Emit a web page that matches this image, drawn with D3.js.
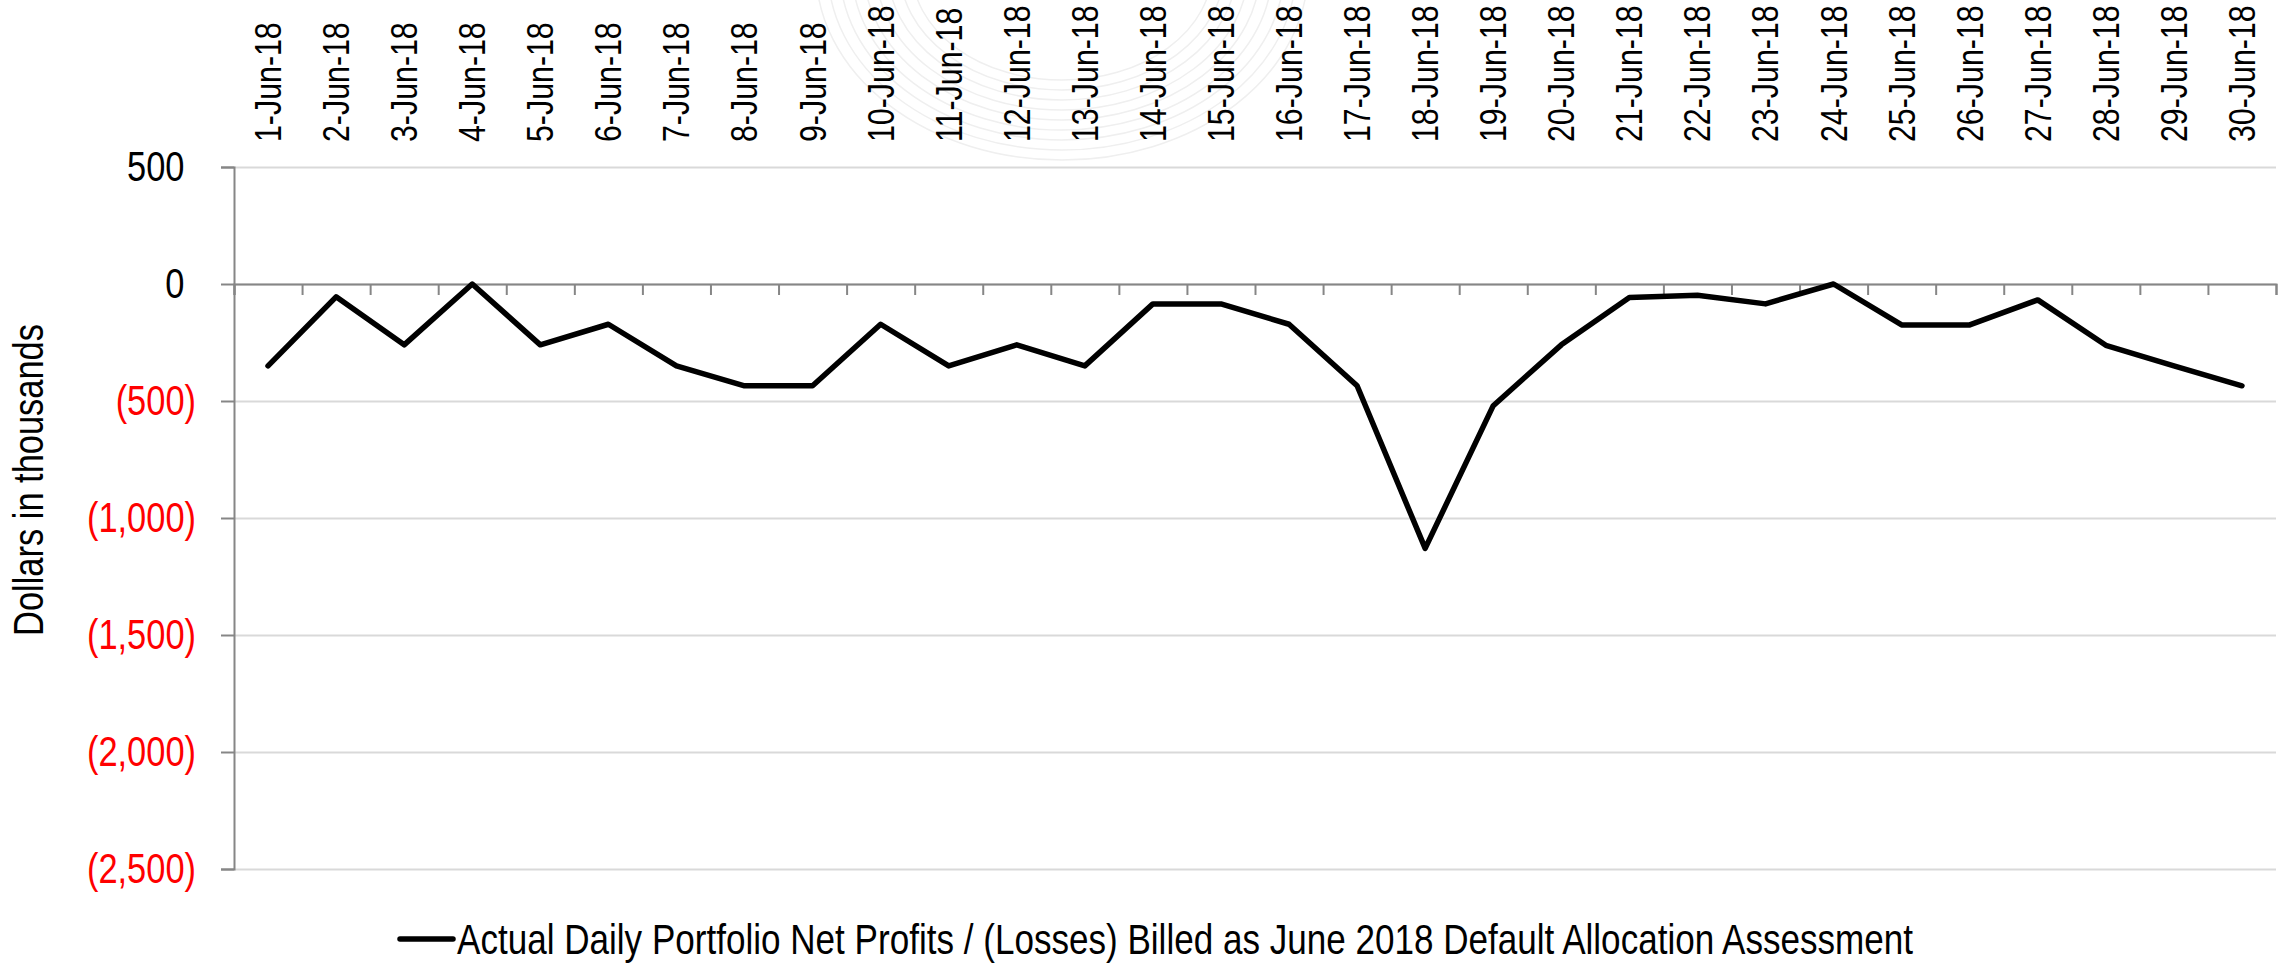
<!DOCTYPE html>
<html>
<head>
<meta charset="utf-8">
<script src="https://cdn.jsdelivr.net/npm/d3@7"></script>
<style>
  body { margin: 0; background: #fff; }
  text { font-family: 'Liberation Sans', Arial, sans-serif; }
</style>
</head>
<body>
<div id="chart"></div>
<script>
const width = 2290,
    height = 966,
    plotLeft = 234, plotRight = 2276, plotTop = 167, plotBottom = 869,
    narrow = 0.82; // no narrow face installed, so squeeze the regular one

// data (thousands of dollars)
const days = ['1-Jun-18', '2-Jun-18', '3-Jun-18', '4-Jun-18', '5-Jun-18', '6-Jun-18', '7-Jun-18', '8-Jun-18',
    '9-Jun-18', '10-Jun-18', '11-Jun-18', '12-Jun-18', '13-Jun-18', '14-Jun-18', '15-Jun-18', '16-Jun-18',
    '17-Jun-18', '18-Jun-18', '19-Jun-18', '20-Jun-18', '21-Jun-18', '22-Jun-18', '23-Jun-18', '24-Jun-18',
    '25-Jun-18', '26-Jun-18', '27-Jun-18', '28-Jun-18', '29-Jun-18', '30-Jun-18'];
const netProfits = [-350, -55, -260, 0, -260, -172, -350, -435, -435, -172, -350, -260, -350, -85, -85, -172,
    -435, -1130, -520, -260, -58, -48, -85, 0, -175, -175, -68, -262, -350, -435];
const yTicks = [500, 0, -500, -1000, -1500, -2000, -2500];
const seriesName = 'Actual Daily Portfolio Net Profits / (Losses) Billed as June 2018 Default Allocation Assessment';

const svg = d3.select('#chart')
    .append('svg')
    .attr('width', width)
    .attr('height', height);

// faint watermark arcs behind the top labels
const wm = svg.append('g').attr('fill', 'none').attr('stroke', '#efefef').attr('stroke-width', 1.5);
d3.range(9).forEach(i => {
    wm.append('ellipse')
        .attr('cx', 1062)
        .attr('cy', -30)
        .attr('rx', 150 + i * 12)
        .attr('ry', 110 + i * 10);
});

const xScale = d3.scaleBand()
    .domain(days)
    .range([plotLeft, plotRight]);
const xEdge = d3.scaleLinear()
    .domain([0, days.length])
    .range([plotLeft, plotRight]);
const yScale = d3.scaleLinear()
    .domain([500, -2500])
    .range([plotTop, plotBottom]);

// gridlines
svg.append('g')
    .attr('transform', 'translate(' + plotLeft + ',0)')
    .call(d3.axisLeft(yScale).tickValues(yTicks).tickSize(-(plotRight - plotLeft)).tickFormat(''))
    .call(g => g.select('.domain').remove())
    .selectAll('line')
    .attr('stroke', '#d9d9d9')
    .attr('stroke-width', 2);

// value axis
const fmt = d3.format(',');
const yAxisG = svg.append('g')
    .attr('transform', 'translate(' + plotLeft + ',0)')
    .call(d3.axisLeft(yScale).tickValues(yTicks).tickSize(13).tickPadding(25)
        .tickFormat(v => v < 0 ? '(' + fmt(-v) + ')' : fmt(v)));
yAxisG.select('.domain').attr('stroke', '#868686').attr('stroke-width', 2);
yAxisG.selectAll('.tick line').attr('stroke', '#868686').attr('stroke-width', 2);
yAxisG.selectAll('.tick text')
    .attr('font-size', 42)
    .attr('font-family', null)
    .attr('fill', v => v < 0 ? '#ff0000' : '#000')
    .attr('x', 0)
    .attr('transform', 'translate(-38,0) scale(' + narrow + ',1)')
    .each(function(v) {
        // keep room for the ")" like the accounting format does
        if (v >= 0) d3.select(this).append('tspan').attr('fill-opacity', 0).text(')');
    });

// category axis at zero, tick marks between days
const xAxisG = svg.append('g')
    .attr('transform', 'translate(0,' + yScale(0) + ')')
    .call(d3.axisBottom(xEdge).tickValues(d3.range(days.length + 1)).tickSize(11).tickFormat(''));
xAxisG.select('.domain').attr('stroke', '#868686').attr('stroke-width', 2);
xAxisG.selectAll('.tick line').attr('stroke', '#868686').attr('stroke-width', 2);

// day labels along the top
const labelG = svg.append('g')
    .attr('transform', 'translate(0,142)')
    .call(d3.axisTop(xScale).tickSize(0).tickPadding(0));
labelG.select('.domain').remove();
labelG.selectAll('.tick text')
    .attr('font-size', 37)
    .attr('font-family', null)
    .attr('fill', '#000')
    .attr('text-anchor', 'start')
    .attr('transform', 'rotate(-90) scale(' + narrow + ',1)')
    .attr('x', 0)
    .attr('y', 0)
    .attr('dy', '0.35em');

// the series line
const line = d3.line()
    .x((d, i) => xScale(days[i]) + xScale.bandwidth() / 2)
    .y(d => yScale(d));
svg.append('path')
    .datum(netProfits)
    .attr('d', line)
    .attr('fill', 'none')
    .attr('stroke', '#000')
    .attr('stroke-width', 5.5)
    .attr('stroke-linejoin', 'round')
    .attr('stroke-linecap', 'round');

// axis title
svg.append('text')
    .attr('transform', 'translate(43,480) rotate(-90) scale(' + narrow + ',1)')
    .attr('text-anchor', 'middle')
    .attr('font-size', 42)
    .text('Dollars in thousands');

// legend
svg.append('line')
    .attr('x1', 400).attr('x2', 453)
    .attr('y1', 939).attr('y2', 939)
    .attr('stroke', '#000')
    .attr('stroke-width', 5.5)
    .attr('stroke-linecap', 'round');
svg.append('text')
    .attr('transform', 'translate(457,954) scale(0.835,1)')
    .attr('font-size', 42)
    .text(seriesName);
</script>
</body>
</html>
